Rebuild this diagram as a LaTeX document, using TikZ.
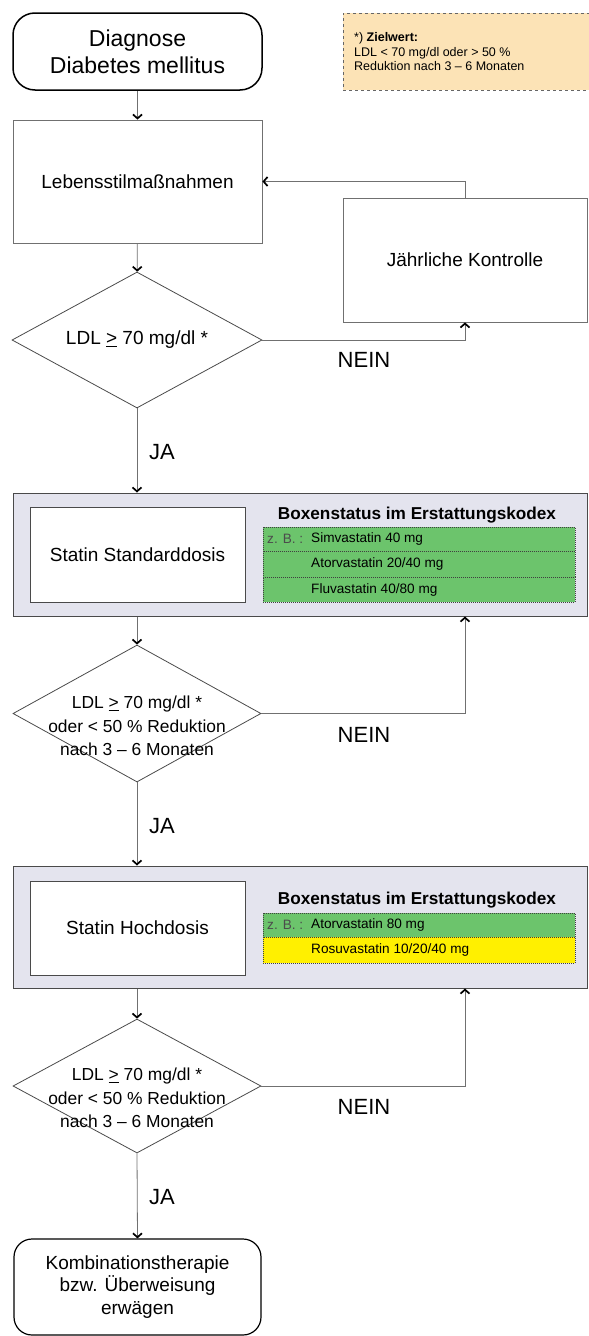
\documentclass[tikz,border=0pt]{standalone}
\usepackage{fontspec}
\setmainfont{Liberation Sans}
\usetikzlibrary{shapes.geometric,arrows.meta}
\definecolor{lineg}{HTML}{707070}
\definecolor{darkl}{HTML}{4A4A4A}
\definecolor{panelc}{HTML}{E4E4EE}
\definecolor{greenc}{HTML}{6CC46C}
\definecolor{yellowc}{HTML}{FFF000}
\definecolor{notec}{HTML}{FCE3B6}
\begin{document}
\begin{tikzpicture}[x=1pt,y=-1pt,
  fbig/.style={font=\fontsize{23}{27}\selectfont},
  fmain/.style={font=\fontsize{19}{23}\selectfont},
  fdia/.style={font=\fontsize{17.4}{23.5}\selectfont},
  flab/.style={font=\fontsize{22}{26}\selectfont},
  term/.style={draw=black, line width=1.5pt, rounded corners=22pt, inner sep=0pt, align=center},
  box/.style={draw=lineg, line width=0.8pt, inner sep=0pt, align=center, fmain},
  dia/.style={diamond, draw=darkl, line width=0.8pt, inner sep=0pt},
  panel/.style={draw=darkl, line width=1pt, fill=panelc, inner sep=0pt},
  wbox/.style={draw=darkl, line width=1pt, fill=white, inner sep=0pt, fmain},
  hdr/.style={font=\fontsize{17.2}{20}\selectfont\bfseries},
  row/.style={draw=black!75, line width=0.8pt, dash pattern=on 1pt off 1pt, inner sep=0pt, minimum width=312pt},
  rtxt/.style={anchor=west, inner sep=0pt, font=\fontsize{13.6}{16}\selectfont},
  conn/.style={draw=lineg, line width=0.8pt, -{Straight Barb[length=4pt,width=9pt,line width=1.7pt,color=black]}}
]
\useasboundingbox (0,0) rectangle (589,1336);

% start and note
\node[term, fbig, minimum width=249pt, minimum height=77pt] (start) at (137.5,51.5) {Diagnose\\Diabetes mellitus};
\node[draw=black!60, dashed, line width=0.7pt, fill=notec, minimum width=250pt, minimum height=77pt, inner sep=0pt] (note) at (468,51.5) {};
\node[anchor=west, align=left, inner sep=0pt, font=\fontsize{12.5}{14.5}\selectfont] (notet) at (354,52) {*) \textbf{Zielwert:}\\LDL < 70 mg/dl oder > 50 \%\\Reduktion nach 3 – 6 Monaten};

% lifestyle and yearly check
\node[box, minimum width=249pt, minimum height=123pt] (leb) at (137.5,181.5) {Lebensstilmaßnahmen};
\node[box, minimum width=244pt, minimum height=124pt] (jahr) at (465,260) {Jährliche Kontrolle};

% diamond 1
\node[dia, minimum width=250pt, minimum height=136pt] (d1) at (137,340) {};
\node[fmain, inner sep=0pt] (d1t) at (137,340) {LDL \underline{>} 70 mg/dl *};

% panel 1
\node[panel, minimum width=574pt, minimum height=123pt] (p1) at (300,554.5) {};
\node[wbox, minimum width=215pt, minimum height=95pt] (s1) at (137.5,554.5) {Statin Standarddosis};
\node[hdr, inner sep=0pt] (h1) at (417,515) {Boxenstatus im Erstattungskodex};
\node[row, fill=greenc, minimum height=24pt] (r11) at (419,539) {};
\node[row, fill=greenc, minimum height=26pt] (r12) at (419,564) {};
\node[row, fill=greenc, minimum height=25pt] (r13) at (419,589.5) {};
\node[rtxt, text=black!70] (z1) at (267,539) {z. B. :};
\node[rtxt] (t11) at (311,539) {Simvastatin 40 mg};
\node[rtxt] (t12) at (311,564) {Atorvastatin 20/40 mg};
\node[rtxt] (t13) at (311,589.5) {Fluvastatin 40/80 mg};

% diamond 2
\node[dia, minimum width=248pt, minimum height=137pt] (d2) at (137,713.5) {};
\node[fdia, align=center, inner sep=0pt] (d2t) at (137,726) {LDL \underline{>} 70 mg/dl *\\oder < 50 \% Reduktion\\nach 3 – 6 Monaten};

% panel 2
\node[panel, minimum width=574pt, minimum height=122pt] (p2) at (300,927) {};
\node[wbox, minimum width=215pt, minimum height=94pt] (s2) at (137.5,928) {Statin Hochdosis};
\node[hdr, inner sep=0pt] (h2) at (417,900) {Boxenstatus im Erstattungskodex};
\node[row, fill=greenc, minimum height=24pt] (r21) at (419,925) {};
\node[row, fill=yellowc, minimum height=26pt] (r22) at (419,950) {};
\node[rtxt, text=black!70] (z2) at (267,925) {z. B. :};
\node[rtxt] (t21) at (311,925) {Atorvastatin 80 mg};
\node[rtxt] (t22) at (311,950) {Rosuvastatin 10/20/40 mg};

% diamond 3
\node[dia, minimum width=248pt, minimum height=134pt] (d3) at (137,1086) {};
\node[fdia, align=center, inner sep=0pt] (d3t) at (137,1098) {LDL \underline{>} 70 mg/dl *\\oder < 50 \% Reduktion\\nach 3 – 6 Monaten};

% final
\node[term, line width=1.2pt, rounded corners=18pt, font=\fontsize{19}{22.5}\selectfont, minimum width=247pt, minimum height=96pt] (fin) at (137.5,1287) {Kombinationstherapie\\bzw. Überweisung\\erwägen};

% connectors
\draw[conn] (start) -- (leb);
\draw[conn] (jahr.north) |- (leb.east);
\draw[conn] (leb) -- (d1);
\draw[conn] (d1.east) -| (jahr.south);
\draw[conn] (d1.south) -- (d1.south |- p1.north);
\draw[conn] (d2.north |- p1.south) -- (d2.north);
\draw[conn] (d2.east) -| (jahr.south |- p1.south);
\draw[conn] (d2.south) -- (d2.south |- p2.north);
\draw[conn] (d3.north |- p2.south) -- (d3.north);
\draw[conn] (d3.east) -| (jahr.south |- p2.south);
\draw[conn] (d3.south) -- (fin.north);

% labels
\node[flab] (n1) at (364,360) {NEIN};
\node[flab] (n2) at (364,735) {NEIN};
\node[flab] (n3) at (364,1107) {NEIN};
\node[flab] (j1) at (162,452) {JA};
\node[flab] (j2) at (162,826) {JA};
\node[flab] (j3) at (162,1197) {JA};
\end{tikzpicture}
\end{document}
